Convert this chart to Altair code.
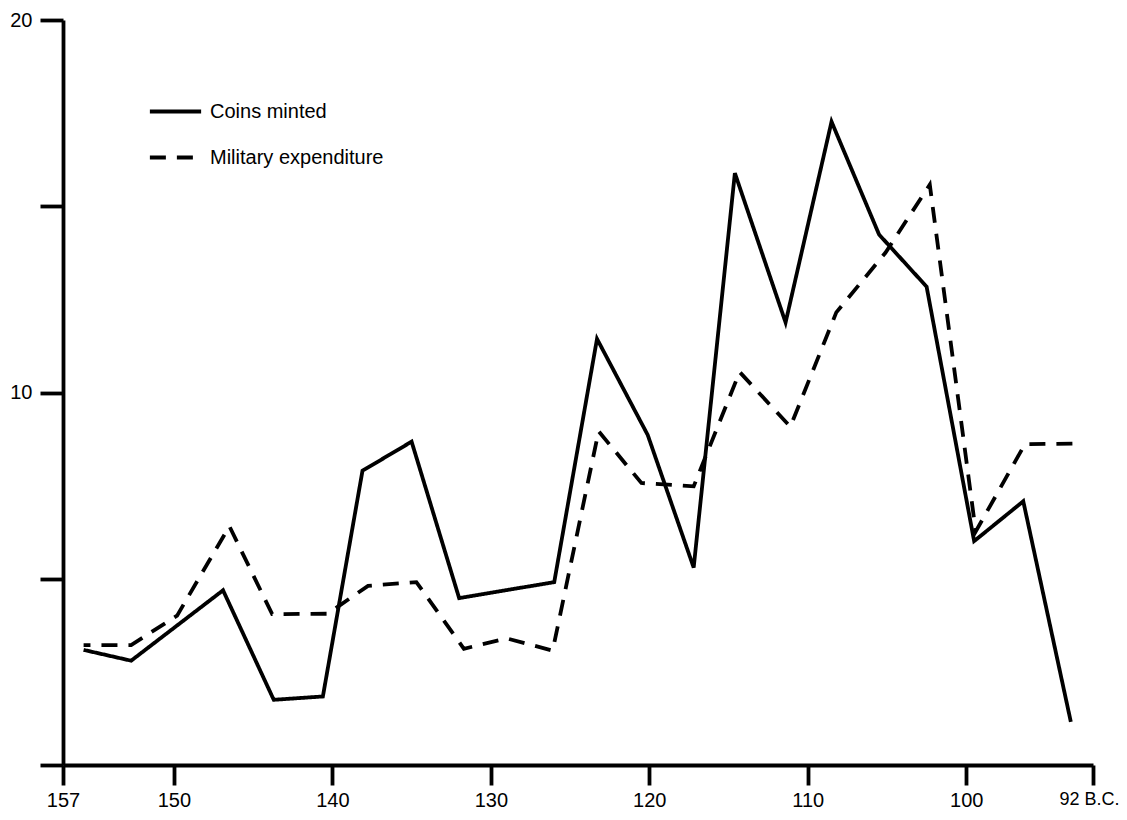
import altair as alt
import pandas as pd

series_names = ["Coins minted", "Military expenditure"]

coin_years = [155.7, 152.7, 146.9, 143.7, 140.6, 138.1, 135.0, 132.0, 126.0, 123.3,
              120.1, 117.2, 114.6, 111.4, 108.5, 105.5, 102.5, 99.5, 96.4, 93.4]
coin_values = [3.09, 2.80, 4.69, 1.75, 1.84, 7.90, 8.68, 4.48, 4.91, 11.44,
               8.86, 5.30, 15.89, 11.88, 17.27, 14.24, 12.84, 6.01, 7.08, 1.16]

mil_years = [155.7, 152.7, 149.8, 146.5, 143.8, 140.3, 137.75, 134.7, 131.7, 129.0, 126.1,
             123.2, 120.5, 117.2, 114.3, 111.1, 108.2, 105.1, 102.3, 99.4, 96.3, 93.3]
mil_values = [3.22, 3.22, 4.01, 6.41, 4.05, 4.06, 4.81, 4.91, 3.12, 3.40, 3.07,
              8.96, 7.57, 7.48, 10.55, 9.08, 12.15, 13.75, 15.58, 6.27, 8.61, 8.63]

x_ticks = [157, 150, 140, 130, 120, 110, 100, 92]
y_ticks = [0, 5, 10, 15, 20]
y_labelled = [10, 20]

df = pd.concat([
    pd.DataFrame({"year": coin_years, "value": coin_values, "series": series_names[0]}),
    pd.DataFrame({"year": mil_years, "value": mil_values, "series": series_names[1]}),
], ignore_index=True)

FONT = "Liberation Sans"

chart = alt.Chart(df).mark_line(
    strokeWidth=3.8, color="black", strokeCap="butt", strokeJoin="miter"
).encode(
    x=alt.X("year:Q",
            scale=alt.Scale(domain=[92, 157], reverse=True, nice=False, zero=False),
            axis=alt.Axis(values=x_ticks, title=None, grid=False, tickSize=20,
                          labelPadding=5, labelFlush=False, labelOverlap=False,
                          labelFontSize={"condition": {"test": "datum.value == 92", "value": 18},
                                         "value": 20},
                          labelOffset={"condition": {"test": "datum.value == 92", "value": -4},
                                       "value": 0},
                          labelExpr="datum.value == 92 ? '92 B.C.' : datum.label",
                          format="d")),
    y=alt.Y("value:Q",
            scale=alt.Scale(domain=[0, 20], nice=False, zero=True),
            axis=alt.Axis(values=y_ticks, title=None, grid=False, tickSize=23,
                          labelPadding=8,
                          labelExpr="(datum.value == %d || datum.value == %d) ? datum.label : ''" % tuple(y_labelled))),
    strokeDash=alt.StrokeDash("series:N",
                              scale=alt.Scale(domain=series_names, range=[[1, 0], [16, 11]]),
                              legend=alt.Legend(title=None, orient="none", legendX=90, legendY=69,
                                                symbolType="M-1.25,0H1.25", symbolSize=1681,
                                                symbolStrokeWidth=3.8, symbolStrokeColor="black",
                                                labelFontSize=20, labelFont=FONT, labelColor="black",
                                                labelLimit=0, labelOffset=12, rowPadding=13,
                                                padding=0)),
    order="year:Q",
).properties(
    width=1030, height=745,
    autosize=alt.AutoSizeParams(type="none"),
    padding={"left": 55, "top": 12, "right": 26, "bottom": 46},
    background="white",
).configure_view(stroke=None).configure_axis(
    domainColor="black", tickColor="black", labelColor="black",
    domainWidth=3.8, tickWidth=3.8, labelFontSize=20, labelFont=FONT,
)

chart.save("out.html", embed_options={"renderer": "svg", "actions": False})
